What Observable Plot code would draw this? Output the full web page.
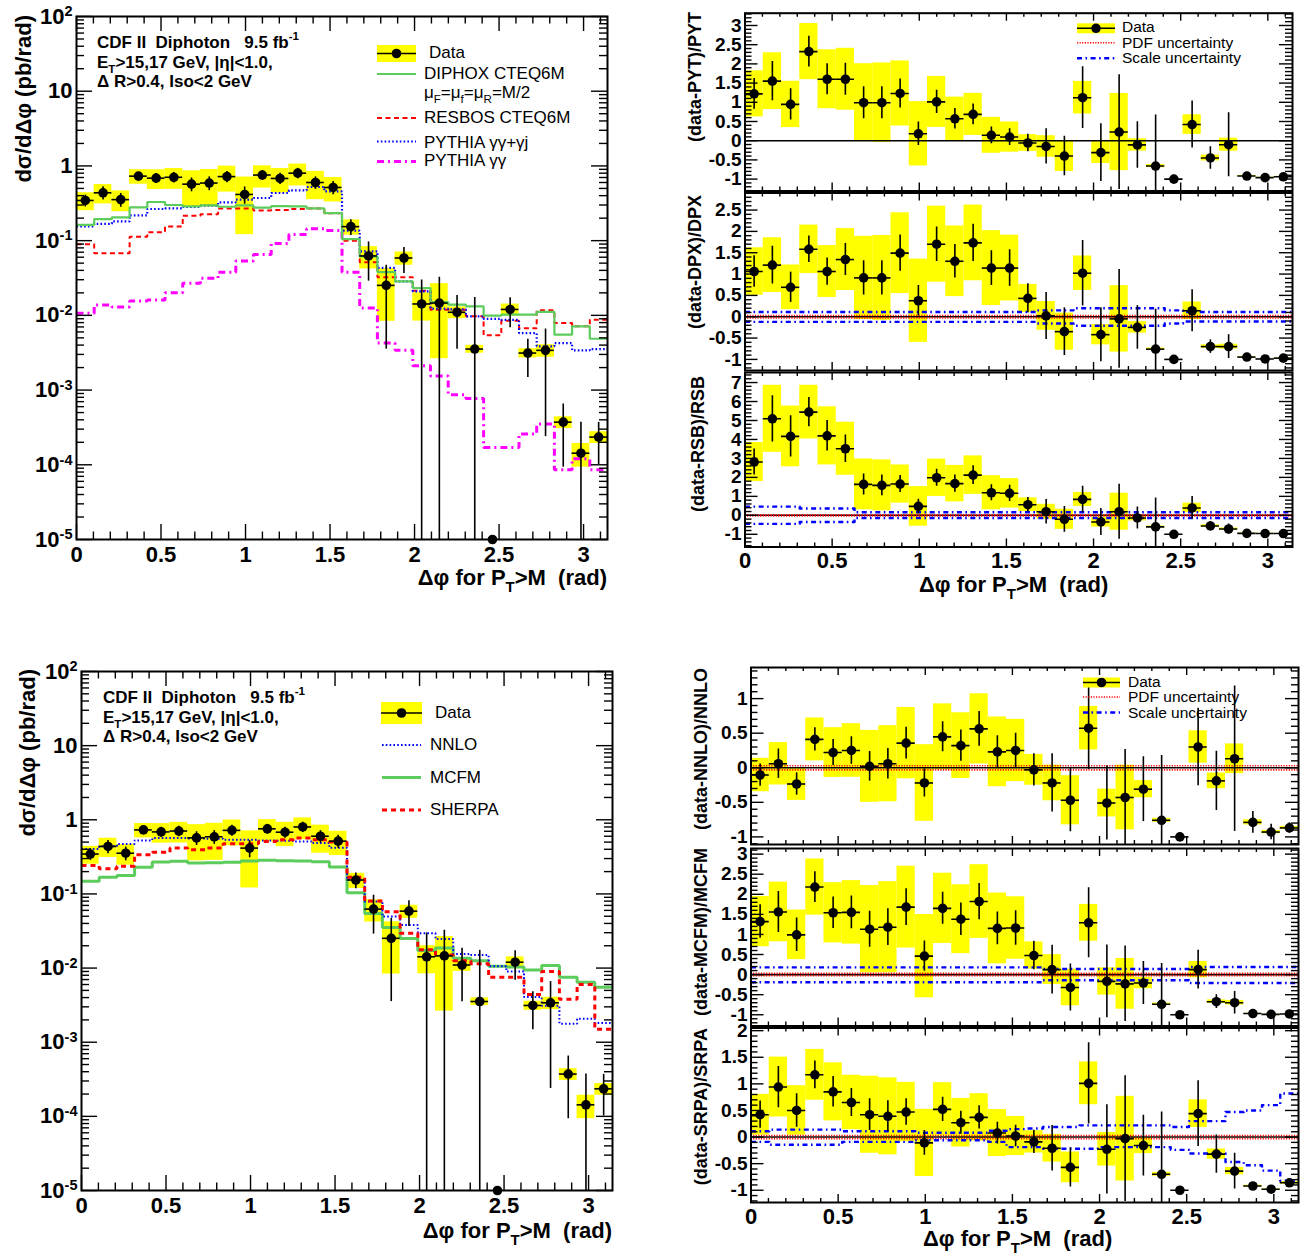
<!DOCTYPE html>
<html><head><meta charset="utf-8">
<script src="https://cdn.jsdelivr.net/npm/d3@7"></script>
<script src="https://cdn.jsdelivr.net/npm/@observablehq/plot@0.6"></script>
<style>
body{margin:0;background:#fff;}
#root{position:relative;width:1302px;height:1257px;overflow:hidden;background:#fff;font-family:'Liberation Sans',Arial,Helvetica,sans-serif;}
#root svg{position:absolute;}
</style></head><body><div id="root"></div>
<script>
// ---------------- data ----------------
const NBINS = 30;                       // 30 bins of width pi/30 in delta-phi
const xMajorTicks = [0, 0.5, 1, 1.5, 2, 2.5, 3];
const logTicks = [1e-5, 1e-4, 1e-3, 1e-2, 1e-1, 1, 10, 100];

// measured cross section (pb/rad); bin 24 is empty
const dataXsec = [0.345,0.437,0.354,0.73,0.686,0.705,0.57,0.59,0.72,0.415,0.755,0.68,0.80,0.60,0.515,
  0.154,0.0624,0.0252,0.0586,0.0142,0.0146,0.0110,0.00354,0,0.0120,0.00313,0.0034,0.000372,0.000143,0.000235];
// relative statistical (error bars) and systematic (yellow boxes) uncertainties
const statRel = [0.18,0.20,0.21,0.12,0.155,0.16,0.21,0.21,0.17,0.26,0.15,0.17,0.16,0.19,0.20,
  0.24,0.54,0.86,0.38,1.09,1.22,0.68,3.9,0,0.43,0.53,0.93,0.75,1.6,0.57];
const sysRel = [0.27,0.29,0.31,0.22,0.295,0.31,0.51,0.52,0.38,0.71,0.33,0.36,0.325,0.41,0.36,
  0.23,0.33,0.67,0.20,0.41,0.82,0.18,0.12,0,0.18,0.14,0.19,0.18,0.35,0.18];

// theory predictions (pb/rad)
const diphox = [0.163,0.194,0.205,0.279,0.329,0.300,0.288,0.296,0.284,0.296,0.276,0.290,0.288,0.270,0.234,
  0.105,0.0616,0.0380,0.0285,0.0232,0.0151,0.0139,0.0132,0.00991,0.0102,0.0102,0.0111,0.00551,0.00713,0.00486];
const resbos = [0.0897,0.0679,0.0679,0.1126,0.130,0.155,0.216,0.225,0.270,0.270,0.254,0.257,0.265,0.270,0.232,
  0.100,0.0513,0.0323,0.0323,0.0214,0.0119,0.0119,0.0097,0.0054,0.00849,0.0067,0.01167,0.00789,0.00713,0.00875];
const pythiaAll = [0.155,0.168,0.181,0.218,0.265,0.270,0.282,0.294,0.325,0.353,0.372,0.434,0.471,0.522,0.457,
  0.136,0.072,0.0431,0.0285,0.0210,0.0123,0.0120,0.0097,0.0090,0.0087,0.0058,0.00385,0.00426,0.0034,0.00354];
const pythiaGG = [0.01064,0.01377,0.01294,0.01557,0.01606,0.02014,0.0269,0.0314,0.0378,0.0536,0.0652,0.0916,0.121,0.144,0.137,
  0.0377,0.01254,0.00426,0.0034,0.00212,0.00154,0.000865,0.000773,0.000171,0.000171,0.000258,0.000351,0.0000857,0.00012,0.0000857];
const nnlo = [0.403,0.438,0.471,0.527,0.567,0.567,0.561,0.555,0.538,0.538,0.527,0.522,0.511,0.485,0.420,
  0.157,0.0789,0.0496,0.0380,0.0294,0.0246,0.0155,0.0150,0.0106,0.00898,0.00406,0.0031,0.00178,0.00208,0.00182];
const mcfm = [0.148,0.168,0.177,0.229,0.269,0.275,0.261,0.264,0.267,0.278,0.284,0.281,0.278,0.272,0.231,
  0.104,0.0544,0.0353,0.0251,0.0172,0.0187,0.0136,0.0126,0.0106,0.0103,0.00945,0.0108,0.00753,0.00645,0.00553];
const sherpa = [0.241,0.219,0.236,0.338,0.364,0.416,0.395,0.416,0.475,0.475,0.511,0.538,0.567,0.538,0.501,
  0.168,0.080,0.0573,0.0294,0.0177,0.0150,0.0126,0.0114,0.00753,0.0075,0.0044,0.00897,0.0038,0.006,0.0015];

// (data - theory)/theory as plotted
const ratioPYT = [1.22,1.55,0.945,2.32,1.60,1.60,0.99,0.99,1.23,0.18,1.01,0.57,0.685,0.14,0.095,
  -0.06,-0.15,-0.40,1.12,-0.31,0.225,-0.11,-0.66,-1,0.42,-0.45,-0.104,-0.92,-0.963,-0.94];
const ratioDPX = [1.06,1.21,0.69,1.58,1.06,1.34,0.91,0.91,1.49,0.375,1.70,1.30,1.73,1.14,1.14,
  0.43,0.02,-0.35,1.02,-0.42,-0.05,-0.25,-0.76,-1,0.14,-0.70,-0.70,-0.945,-0.99,-0.97];
const ratioRSB = [2.81,5.09,4.16,5.44,4.19,3.51,1.63,1.58,1.65,0.47,1.98,1.67,2.12,1.19,1.16,
  0.56,0.19,-0.21,0.84,-0.35,0.19,-0.14,-0.61,-1,0.39,-0.56,-0.72,-0.95,-0.96,-0.96];
const ratioNNLO = [-0.105,0.058,-0.235,0.41,0.22,0.25,0.02,0.058,0.356,-0.22,0.447,0.32,0.5625,0.23,0.25,
  -0.03,-0.22,-0.47,0.572,-0.51,-0.43,-0.31,-0.76,-1,0.30,-0.19,0.13,-0.79,-0.93,-0.87];
const ratioMCFM = [1.32,1.56,0.99,2.18,1.54,1.55,1.13,1.18,1.68,0.46,1.65,1.38,1.82,1.15,1.16,
  0.475,0.125,-0.32,1.29,-0.17,-0.23,-0.21,-0.74,-1,0.125,-0.675,-0.70,-0.97,-0.99,-0.98];
const ratioSRPA = [0.42,0.94,0.50,1.17,0.85,0.65,0.42,0.39,0.47,-0.11,0.52,0.27,0.37,0.076,0.02,
  -0.09,-0.21,-0.57,1.01,-0.23,-0.03,-0.16,-0.70,-1,0.44,-0.32,-0.64,-0.92,-0.98,-0.86];

// scale-uncertainty bands (relative)
const scaleUpDPX = [0.11,0.11,0.11,0.11,0.11,0.11,0.11,0.11,0.11,0.11,0.11,0.11,0.11,0.11,0.11,0.11,0.15,0.15,0.20,0.20,0.20,0.20,0.20,0.15,0.11,0.11,0.11,0.11,0.11,0.11];
const scaleDnDPX = [-0.12,-0.12,-0.12,-0.12,-0.12,-0.12,-0.12,-0.12,-0.12,-0.12,-0.12,-0.12,-0.12,-0.12,-0.12,-0.12,-0.16,-0.16,-0.21,-0.21,-0.21,-0.21,-0.21,-0.16,-0.11,-0.11,-0.11,-0.11,-0.11,-0.11];
const scaleUpRSB = [0.46,0.46,0.46,0.36,0.36,0.36,0.16,0.16,0.16,0.16,0.16,0.16,0.16,0.16,0.16,0.16,0.16,0.16,0.16,0.16,0.16,0.16,0.16,0.16,0.16,0.16,0.16,0.16,0.16,0.16];
const scaleDnRSB = [-0.45,-0.45,-0.45,-0.35,-0.35,-0.35,-0.14,-0.14,-0.14,-0.14,-0.14,-0.14,-0.14,-0.14,-0.14,-0.14,-0.14,-0.14,-0.14,-0.14,-0.14,-0.14,-0.14,-0.14,-0.14,-0.14,-0.14,-0.14,-0.14,-0.14];
const scaleUpMCFM = [0.18,0.18,0.18,0.18,0.18,0.18,0.18,0.18,0.18,0.18,0.18,0.18,0.18,0.18,0.18,0.18,0.14,0.14,0.14,0.14,0.14,0.14,0.14,0.14,0.19,0.19,0.19,0.19,0.19,0.19];
const scaleDnMCFM = [-0.19,-0.19,-0.19,-0.19,-0.19,-0.19,-0.19,-0.19,-0.19,-0.19,-0.19,-0.19,-0.19,-0.19,-0.19,-0.19,-0.14,-0.14,-0.14,-0.14,-0.14,-0.14,-0.14,-0.14,-0.21,-0.21,-0.21,-0.21,-0.21,-0.21];
const scaleUpSRPA = [0.11,0.14,0.14,0.14,0.14,0.11,0.11,0.11,0.11,0.08,0.08,0.08,0.08,0.12,0.15,0.16,0.19,0.19,0.22,0.22,0.22,0.22,0.22,0.19,0.30,0.30,0.47,0.50,0.60,0.82];
const scaleDnSRPA = [-0.09,-0.145,-0.145,-0.145,-0.145,-0.09,-0.09,-0.09,-0.09,-0.06,-0.06,-0.06,-0.06,-0.09,-0.19,-0.19,-0.22,-0.22,-0.22,-0.19,-0.19,-0.19,-0.19,-0.24,-0.31,-0.31,-0.47,-0.53,-0.63,-0.82];
// PDF-uncertainty band edges (relative)
const pdfBand = [-0.03, 0.03];

// ---------------- helpers ----------------
const FONT = "'Liberation Sans', Arial, Helvetica, sans-serif";
const PI = Math.PI;
const binEdges = d3.range(NBINS + 1).map(i => i * PI / NBINS);
const bins = d3.range(NBINS).map(i => ({
  lo: binEdges[i], hi: binEdges[i + 1], c: (binEdges[i] + binEdges[i + 1]) / 2,
  d: dataXsec[i], stat: statRel[i], sys: sysRel[i]
}));
const steps = vals => vals.flatMap((v, i) => [{x: binEdges[i], y: v}, {x: binEdges[i + 1], y: v}]);
const xMinorTicks = d3.range(0, 32).filter(k => k % 5 !== 0).map(k => k / 10).filter(v => v < PI);
const logMinor = d3.range(-5, 2).flatMap(e => d3.range(2, 10).map(m => m * Math.pow(10, e)));
function linMinor(dom, step, major) {
  return d3.range(Math.ceil(dom[0] / step - 1e-9), Math.floor(dom[1] / step + 1e-9) + 1)
    .map(k => +(k * step).toFixed(4)).filter(v => !major.some(m => Math.abs(m - v) < 1e-9));
}
const fmtPow = d => { const e = Math.round(Math.log10(d)); return e === 0 ? "1" : e === 1 ? "10" : `10^${e}`; };
const root = document.getElementById("root");

const YELLOW = "#ffff00";
const YMIN = 1e-5;
const BLUE_DOT = "1.6,2.2";
const SCALE_DASH = "5,3.5,1.6,3.5";
const PDF_DOT = "1.2,1.4";

function makePanel(cfg) {
  const [L, T, R, B] = cfg.frame;
  const [sx, sy, sw, sh] = cfg.box;
  const W = R - L, H = B - T;
  const k = {stroke: "black", strokeWidth: 1.4};
  const t = cfg.tick;
  const marks = [
    ...cfg.marks,
    Plot.tickX(xMajorTicks, {x: d => d, insetTop: H - t.xMaj, ...k}),
    Plot.tickX(xMajorTicks, {x: d => d, insetBottom: H - t.xMaj, ...k}),
    Plot.tickX(xMinorTicks, {x: d => d, insetTop: H - t.xMin, ...k}),
    Plot.tickX(xMinorTicks, {x: d => d, insetBottom: H - t.xMin, ...k}),
    Plot.tickY(cfg.yTicks, {y: d => d, insetRight: W - t.yMaj, ...k}),
    Plot.tickY(cfg.yTicks, {y: d => d, insetLeft: W - t.yMaj, ...k}),
    Plot.tickY(cfg.yMinor, {y: d => d, insetRight: W - t.yMin, ...k}),
    Plot.tickY(cfg.yMinor, {y: d => d, insetLeft: W - t.yMin, ...k}),
    Plot.frame({stroke: "black", strokeWidth: 2}),
    Plot.axisY({ticks: cfg.yTicks, tickSize: 0, tickPadding: cfg.yPad, tickFormat: cfg.yFmt, label: null,
      fontSize: cfg.yFont, fontWeight: "bold"})
  ];
  if (cfg.xLabels) marks.push(Plot.axisX({ticks: xMajorTicks, tickSize: 0, tickPadding: cfg.xPad, label: null,
    tickFormat: d => String(d), fontSize: cfg.xFont, fontWeight: "bold"}));
  const svg = Plot.plot({
    width: sw, height: sh,
    marginLeft: L - sx, marginRight: sx + sw - R, marginTop: T - sy, marginBottom: sy + sh - B,
    x: {domain: [0, PI], axis: null, label: null},
    y: {...cfg.y, axis: null, label: null},
    marks,
    style: {fontFamily: FONT, fontWeight: "bold", overflow: "visible", background: "transparent", color: "black"}
  });
  svg.style.left = sx + "px";
  svg.style.top = sy + "px";
  d3.select(svg).selectAll('g[aria-label="y-axis tick label"] text').each(function () {
    const m = /^10\^(-?\d+)$/.exec(this.textContent);
    if (m) {
      const s = d3.select(this); s.text("");
      s.append("tspan").text("10");
      s.append("tspan").attr("dy", "-0.5em").attr("font-size", "0.66em").text(m[1]);
    }
  });
  root.appendChild(svg);
  return svg;
}

function logMarks(theories) {
  const pos = bins.filter(b => b.d > 0);
  return [
    Plot.rect(pos.filter(b => b.sys > 0), {x1: "lo", x2: "hi", y1: b => Math.max(b.d * (1 - b.sys), YMIN),
      y2: b => b.d * (1 + b.sys), fill: YELLOW, clip: true}),
    ...theories.map(th => Plot.line(steps(th.values), {x: "x", y: "y", stroke: th.color, strokeWidth: th.width,
      strokeDasharray: th.dash, strokeLinecap: "butt", strokeLinejoin: "miter", clip: true})),
    Plot.ruleX(pos.filter(b => b.stat > 0), {x: "c", y1: b => Math.max(b.d * (1 - b.stat), YMIN),
      y2: b => b.d * (1 + b.stat), stroke: "black", strokeWidth: 1.6, clip: true}),
    Plot.ruleY(pos, {y: "d", x1: "lo", x2: "hi", stroke: "black", strokeWidth: 1.6}),
    Plot.dot(bins, {x: "c", y: b => (b.d > 0 ? b.d : YMIN), r: 4.8, fill: "black", stroke: "none"})
  ];
}

const SCALE_STYLE = {stroke: "#0000ff", strokeWidth: 2.4, strokeDasharray: SCALE_DASH, strokeLinecap: "butt"};
function ratioMarks(r, up, dn, withPdf) {
  const rb = bins.map((b, i) => ({...b, r: r[i], k: r[i] + 1}));
  const m = [
    Plot.rect(rb.filter(b => b.sys > 0), {x1: "lo", x2: "hi", y1: b => b.r - b.sys * b.k, y2: b => b.r + b.sys * b.k,
      fill: YELLOW, clip: true}),
    Plot.ruleY([0], {stroke: "black", strokeWidth: 1.6})
  ];
  if (withPdf) m.push(Plot.ruleY(pdfBand, {stroke: "#ff0000", strokeWidth: 1.6, strokeDasharray: PDF_DOT}));
  if (up) m.push(Plot.line(steps(up), {x: "x", y: "y", ...SCALE_STYLE, clip: true}),
                 Plot.line(steps(dn), {x: "x", y: "y", ...SCALE_STYLE, clip: true}));
  m.push(
    Plot.ruleX(rb.filter(b => b.stat > 0), {x: "c", y1: b => b.r - b.stat * b.k, y2: b => b.r + b.stat * b.k,
      stroke: "black", strokeWidth: 1.6, clip: true}),
    Plot.ruleY(rb, {y: "r", x1: "lo", x2: "hi", stroke: "black", strokeWidth: 1.6, clip: true}),
    Plot.dot(rb, {x: "c", y: "r", r: 4.8, fill: "black", stroke: "none"})
  );
  return m;
}

const LOG_TICK = {xMaj: 15, xMin: 7.5, yMaj: 16, yMin: 8};
const RAT_TICK = {xMaj: 8, xMin: 4, yMaj: 13, yMin: 7};
const fmtLin = d => String(d);

// ---------------- top-left: cross section vs DIPHOX/RESBOS/PYTHIA ----------------
makePanel({
  frame: [76, 16, 607, 539], box: [0, 0, 640, 620],
  y: {type: "log", domain: [1e-5, 1e2]},
  yTicks: logTicks, yMinor: logMinor, yFmt: fmtPow, yFont: 22, yPad: 4,
  xLabels: true, xPad: 7, xFont: 22, tick: LOG_TICK,
  marks: logMarks([
    {values: pythiaGG, color: "#ff00ff", width: 3, dash: "7,4,2,4"},
    {values: resbos, color: "#ff0000", width: 2, dash: "5,3.5"},
    {values: pythiaAll, color: "#0000ff", width: 2.2, dash: BLUE_DOT},
    {values: diphox, color: "#5ccc5c", width: 2.2, dash: null}
  ])
});

// ---------------- bottom-left: cross section vs NNLO/MCFM/SHERPA ----------------
makePanel({
  frame: [81, 671, 612, 1190], box: [0, 640, 640, 617],
  y: {type: "log", domain: [1e-5, 1e2]},
  yTicks: logTicks, yMinor: logMinor, yFmt: fmtPow, yFont: 22, yPad: 4,
  xLabels: true, xPad: 7, xFont: 22, tick: LOG_TICK,
  marks: logMarks([
    {values: mcfm, color: "#5ccc5c", width: 3, dash: null},
    {values: nnlo, color: "#0000ff", width: 2, dash: BLUE_DOT},
    {values: sherpa, color: "#ff0000", width: 3, dash: "5,4"}
  ])
});

// ---------------- right-hand ratio panels ----------------
function ratioPanel(frame, box, dom, major, minorStep, marks, xLabels, xPad) {
  makePanel({
    frame, box, y: {domain: dom}, yTicks: major, yMinor: linMinor(dom, minorStep, major), yFmt: fmtLin,
    yFont: 19, yPad: 3.5, xLabels, xPad, xFont: 22, tick: RAT_TICK, marks
  });
}
const halfSteps = (a, b) => d3.range(Math.round(a * 2), Math.round(b * 2) + 1).map(k => k / 2);

ratioPanel([744.5, 12.7, 1292, 190.5], [690, 0, 612, 200], [-1.31, 3.32], halfSteps(-1, 3), 0.1,
  ratioMarks(ratioPYT, null, null, false), false);
ratioPanel([744.5, 192.5, 1292, 370], [690, 185, 612, 195], [-1.26, 2.9], halfSteps(-1, 2.5), 0.1,
  ratioMarks(ratioDPX, scaleUpDPX, scaleDnDPX, true), false);
ratioPanel([744.5, 372, 1292, 546.5], [690, 365, 612, 235], [-1.67, 7.53], d3.range(-1, 8), 0.2,
  ratioMarks(ratioRSB, scaleUpRSB, scaleDnRSB, true), true, 5);

ratioPanel([750.5, 667, 1298, 844], [690, 655, 612, 195], [-1.11, 1.45], halfSteps(-1, 1), 0.1,
  ratioMarks(ratioNNLO, null, null, true), false);
ratioPanel([750.5, 848, 1298, 1025.5], [690, 840, 612, 192], [-1.28, 3.14], halfSteps(-1, 3), 0.1,
  ratioMarks(ratioMCFM, scaleUpMCFM, scaleDnMCFM, true), false);
ratioPanel([750.5, 1027.5, 1298, 1202], [690, 1020, 612, 237], [-1.23, 2.05], halfSteps(-1, 2), 0.1,
  ratioMarks(ratioSRPA, scaleUpSRPA, scaleDnSRPA, true), true, 6);

// ---------------- text, titles and legends ----------------
const ov = d3.select(root).append("svg").attr("width", 1302).attr("height", 1257)
  .style("left", "0px").style("top", "0px").style("font-family", FONT).style("pointer-events", "none");

function rich(x, y, parts, {size = 17, weight = "normal", anchor = "start", rotate = 0} = {}) {
  const t = ov.append("text").attr("font-size", size).attr("font-weight", weight).attr("text-anchor", anchor)
    .attr("transform", `translate(${x},${y}) rotate(${rotate})`).style("white-space", "pre").attr("fill", "black");
  let shift = 0;
  for (const p of parts) {
    const [s, kind] = Array.isArray(p) ? p : [p, null];
    const target = kind === "sub" ? size * 0.3 : kind === "sup" ? -size * 0.45 : 0;
    t.append("tspan").attr("dy", target - shift).attr("font-size", kind ? size * 0.68 : size).text(s);
    shift = target;
  }
  return t;
}
const XTITLE = ["Δφ for P", ["T", "sub"], ">M  (rad)"];

// axis titles
rich(31, 15, ["dσ/dΔφ (pb/rad)"], {size: 22, weight: "bold", anchor: "end", rotate: -90});
rich(35, 669, ["dσ/dΔφ (pb/rad)"], {size: 22, weight: "bold", anchor: "end", rotate: -90});
rich(607, 585, XTITLE, {size: 22, weight: "bold", anchor: "end"});
rich(612, 1238, XTITLE, {size: 22, weight: "bold", anchor: "end"});
rich(919, 592, XTITLE, {size: 22, weight: "bold"});
rich(923, 1246, XTITLE, {size: 22, weight: "bold"});
rich(701, 12, ["(data-PYT)/PYT"], {size: 18, weight: "bold", anchor: "end", rotate: -90});
rich(701, 195, ["(data-DPX)/DPX"], {size: 18, weight: "bold", anchor: "end", rotate: -90});
rich(704, 376, ["(data-RSB)/RSB"], {size: 18, weight: "bold", anchor: "end", rotate: -90});
rich(707, 668, ["(data-NNLO)/NNLO"], {size: 18, weight: "bold", anchor: "end", rotate: -90});
rich(707, 848, ["(data-MCFM)/MCFM"], {size: 18, weight: "bold", anchor: "end", rotate: -90});
rich(707, 1028, ["(data-SRPA)/SRPA"], {size: 18, weight: "bold", anchor: "end", rotate: -90});

// info blocks
function info(x, y0, dy) {
  rich(x, y0, ["CDF II  Diphoton   9.5 fb", ["-1", "sup"]], {size: 17, weight: "bold"});
  rich(x, y0 + dy, ["E", ["T", "sub"], ">15,17 GeV, |η|<1.0,"], {size: 17, weight: "bold"});
  rich(x, y0 + 2 * dy, ["Δ R>0.4, Iso<2 GeV"], {size: 17, weight: "bold"});
}
info(97, 48, 19.5);
info(103, 703, 19.5);

// legend symbol helpers
function dataSym(x1, x2, y1, y2) {
  ov.append("rect").attr("x", x1).attr("y", y1).attr("width", x2 - x1).attr("height", y2 - y1).attr("fill", YELLOW);
  const ym = (y1 + y2) / 2;
  ov.append("line").attr("x1", x1).attr("x2", x2).attr("y1", ym).attr("y2", ym).attr("stroke", "black").attr("stroke-width", 1.6);
  ov.append("circle").attr("cx", (x1 + x2) / 2).attr("cy", ym).attr("r", 4.8).attr("fill", "black");
}
function lineSym(x1, x2, y, color, width, dash) {
  ov.append("line").attr("x1", x1).attr("x2", x2).attr("y1", y).attr("y2", y).attr("stroke", color)
    .attr("stroke-width", width).attr("stroke-dasharray", dash);
}

// top-left legend
dataSym(377, 416, 45, 62);
rich(429, 57.5, ["Data"], {size: 17});
lineSym(377, 416, 74, "#5ccc5c", 2.2, null);
rich(424, 79, ["DIPHOX CTEQ6M"], {size: 17});
rich(424, 98, ["μ", ["F", "sub"], "=μ", ["f", "sub"], "=μ", ["R", "sub"], "=M/2"], {size: 17});
lineSym(377, 416, 118, "#ff0000", 2, "5,3.5");
rich(424, 123, ["RESBOS CTEQ6M"], {size: 17});
lineSym(377, 416, 141.5, "#0000ff", 2.2, BLUE_DOT);
rich(424, 147.5, ["PYTHIA γγ+γj"], {size: 17});
lineSym(377, 416, 161.5, "#ff00ff", 3, "7,4,2,4");
rich(424, 166, ["PYTHIA γγ"], {size: 17});

// bottom-left legend
dataSym(381, 422, 702, 724);
rich(435, 718, ["Data"], {size: 17});
lineSym(382, 421, 745, "#0000ff", 2, BLUE_DOT);
rich(430, 750, ["NNLO"], {size: 17});
lineSym(382, 421, 777.5, "#5ccc5c", 3, null);
rich(430, 783, ["MCFM"], {size: 17});
lineSym(382, 421, 810, "#ff0000", 3, "5,4");
rich(430, 815, ["SHERPA"], {size: 17});

// ratio legends
function ratioLegend(x1, x2, yData, tx) {
  dataSym(x1, x2, yData - 5, yData + 5);
  rich(tx, yData + 4, ["Data"], {size: 15.5});
  lineSym(x1, x2, yData + 14.5, "#ff0000", 1.6, PDF_DOT);
  rich(tx, yData + 19.5, ["PDF uncertainty"], {size: 15.5});
  lineSym(x1, x2, yData + 30, "#0000ff", 2.4, SCALE_DASH);
  rich(tx, yData + 35, ["Scale uncertainty"], {size: 15.5});
}
ratioLegend(1077, 1115, 28.3, 1122);
ratioLegend(1083, 1120, 682.5, 1128);
</script></body></html>
